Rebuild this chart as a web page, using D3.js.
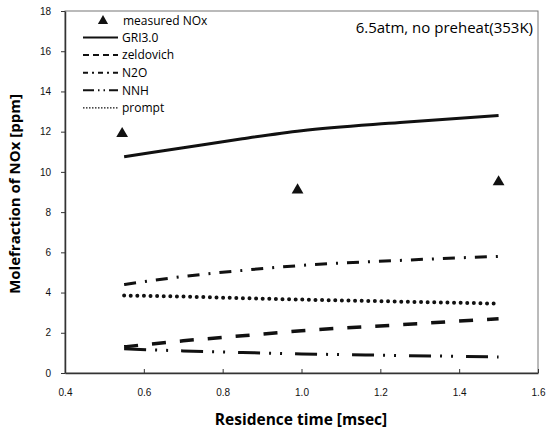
<!DOCTYPE html>
<html lang="en">
<head>
<meta charset="utf-8">
<script src="https://d3js.org/d3.v7.min.js"></script>
<style type="text/css">
body { margin: 0; background: #fff; font-family: "Open Sans", sans-serif; }
.tick text { font-size: 10px; fill: #111; }
</style>
</head>
<body>
<script type="text/javascript">

// Data
var measuredTime = [0.545, 0.99, 1.50];
var measuredNOx  = [11.9, 9.1, 9.5];

var modelTime = [0.55, 0.70, 0.85, 1.00, 1.25, 1.50];
var gri30     = [10.75, 11.2, 11.65, 12.05, 12.45, 12.8];
var zeldovich = [1.3, 1.6, 1.85, 2.1, 2.4, 2.7];
var n2o       = [4.4, 4.8, 5.1, 5.35, 5.6, 5.8];
var nnh       = [1.2, 1.1, 1.02, 0.95, 0.87, 0.8];
var prompt    = [3.85, 3.8, 3.72, 3.65, 3.55, 3.45];

var xTicks = [0.4, 0.6, 0.8, 1.0, 1.2, 1.4, 1.6];
var yTicks = [0, 2, 4, 6, 8, 10, 12, 14, 16, 18];

var width = 546, height = 430;
var margin = {left: 65, right: 8, top: 11, bottom: 57};

var svg = d3.select("body").append("svg")
            .attr("width", width)
            .attr("height", height);

var x = d3.scaleLinear().domain([0.4, 1.6]).range([margin.left, width - margin.right]);
var y = d3.scaleLinear().domain([0, 18]).range([height - margin.bottom, margin.top]);

// frame
svg.append("rect")
   .attr("x", x(0.4)).attr("y", y(18))
   .attr("width", x(1.6) - x(0.4)).attr("height", y(0) - y(18))
   .style("fill", "none").style("stroke", "#777").style("stroke-width", 1);

// axes
svg.append("g")
   .attr("transform", "translate(0," + y(0) + ")")
   .call(d3.axisBottom(x).tickValues(xTicks).tickFormat(d3.format(".1f")).tickSizeInner(-4).tickSizeOuter(0).tickPadding(16));
svg.append("g")
   .attr("transform", "translate(" + x(0.4) + ",0)")
   .call(d3.axisLeft(y).tickValues(yTicks).tickFormat(d3.format("d")).tickSizeInner(4).tickSizeOuter(0).tickPadding(10));
svg.selectAll(".domain").style("stroke", "#333").style("stroke-width", 1.5);
svg.selectAll(".tick line").style("stroke", "#333");

// axis titles
svg.append("text")
   .attr("x", 301).attr("y", 425)
   .attr("text-anchor", "middle")
   .style("font-weight", "bold").style("font-size", "15.5px")
   .text("Residence time [msec]");
svg.append("text")
   .attr("transform", "translate(20," + 194 + ") rotate(-90)")
   .attr("text-anchor", "middle")
   .style("font-weight", "bold").style("font-size", "15px")
   .text("Molefraction of NOx [ppm]");

// series
var series = [
  {name: "GRI3.0",    values: gri30,     dash: null,                 width: 3,   cap: "butt"},
  {name: "zeldovich", values: zeldovich, dash: "14,14",              width: 3.5, cap: "butt"},
  {name: "N2O",       values: n2o,       dash: "12,9,2,9",           width: 3,   cap: "butt"},
  {name: "NNH",       values: nnh,       dash: "22,9,2,9,2,13",      width: 3,   cap: "butt"},
  {name: "prompt",    values: prompt,    dash: "0,6.6",              width: 4,   cap: "round"}
];

var line = d3.line()
  .x(function(d) { return x(d[0]); })
  .y(function(d) { return y(d[1]); })
  .curve(d3.curveMonotoneX);

series.forEach(function(s) {
  svg.append("path")
     .datum(d3.zip(modelTime, s.values))
     .attr("d", line)
     .style("fill", "none")
     .style("stroke", "#111")
     .style("stroke-width", s.width)
     .style("stroke-linecap", s.cap)
     .style("stroke-dasharray", s.dash);
});

// measured points
var tri = d3.symbol().type(d3.symbolTriangle).size(60);
svg.selectAll(".measured")
   .data(d3.zip(measuredTime, measuredNOx))
   .enter().append("path")
   .attr("class", "measured")
   .attr("transform", function(d) { return "translate(" + x(d[0]) + "," + y(d[1]) + ")"; })
   .attr("d", tri)
   .style("fill", "#111");

// legend
var legend = svg.append("g").attr("transform", "translate(83,21)");
legend.append("path")
      .attr("transform", "translate(20,0)")
      .attr("d", d3.symbol().type(d3.symbolTriangle).size(45))
      .style("fill", "#111");
legend.append("text").attr("x", 40).attr("y", 0).attr("dy", "0.35em")
      .style("font-size", "12px").text("measured NOx");

var legendDash = ["", "6,4", "5,4,2,4", "11,4,1.5,4,1.5,4", "1.5,1.5"];
var items = legend.selectAll(".item")
   .data(series)
   .enter().append("g")
   .attr("transform", function(d, i) { return "translate(0," + (16.5 + i * 17.6) + ")"; });
items.append("line")
     .attr("x1", 0).attr("x2", 35)
     .style("stroke", "#111")
     .style("stroke-width", function(d, i) { return i == 4 ? 1.2 : 2; })
     .style("stroke-dasharray", function(d, i) { return legendDash[i]; });
items.append("text").attr("x", 39).attr("dy", "0.35em")
     .style("font-size", "12px")
     .text(function(d) { return d.name; });

// condition label
svg.append("text")
   .attr("x", 533).attr("y", 33)
   .attr("text-anchor", "end")
   .style("font-size", "15px")
   .text("6.5atm, no preheat(353K)");

</script>
</body>
</html>
